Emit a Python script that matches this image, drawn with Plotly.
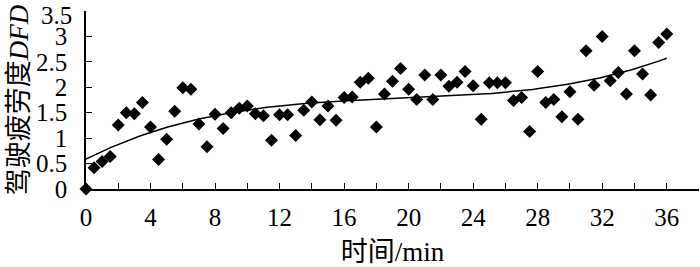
import numpy as np
import plotly.graph_objects as go

time_min = [0, 0.5, 1, 1.5, 2, 2.5, 3, 3.5, 4, 4.5, 5, 5.5, 6, 6.5, 7, 7.5, 8, 8.5, 9, 9.5,
            10, 10.5, 11, 11.5, 12, 12.5, 13, 13.5, 14, 14.5, 15, 15.5, 16, 16.5, 17, 17.5,
            18, 18.5, 19, 19.5, 20, 20.5, 21, 21.5, 22, 22.5, 23, 23.5, 24, 24.5, 25, 25.5,
            26, 26.5, 27, 27.5, 28, 28.5, 29, 29.5, 30, 30.5, 31, 31.5, 32, 32.5, 33, 33.5,
            34, 34.5, 35, 35.5, 36]
dfd = [0, 0.42, 0.54, 0.64, 1.26, 1.50, 1.48, 1.70, 1.22, 0.58, 0.98, 1.53, 1.99, 1.96, 1.28, 0.83,
       1.47, 1.19, 1.50, 1.59, 1.63, 1.48, 1.44, 0.96, 1.46, 1.46, 1.05, 1.55, 1.71, 1.36,
       1.63, 1.35, 1.80, 1.81, 2.10, 2.18, 1.22, 1.87, 2.12, 2.37, 1.96, 1.76, 2.24, 1.76,
       2.24, 2.02, 2.10, 2.31, 2.03, 1.37, 2.09, 2.09, 2.09, 1.74, 1.80, 1.13, 2.31, 1.70,
       1.76, 1.42, 1.91, 1.37, 2.72, 2.04, 3.00, 2.13, 2.29, 1.87, 2.72, 2.26, 1.85, 2.88, 3.05]

x_tickvals = [0, 4, 8, 12, 16, 20, 24, 28, 32, 36]
y_tickvals = [0, 0.5, 1, 1.5, 2, 2.5, 3, 3.5]
y_ticktext = ["0", "0.5", "1", "1.5", "2", "2.5", "3", ""]
y_top_label = "3.5"

# Polynomial (cubic) trend line fitted to all measured points
xs = np.array(time_min)
ys = np.array(dfd)
coef = np.polyfit(xs, ys, 3)
xfit = np.linspace(0, 36, 200)
yfit = np.polyval(coef, xfit)

font_family = "Liberation Serif, Times New Roman, Noto Sans CJK SC, serif"

fig = go.Figure()
fig.add_trace(go.Scatter(x=xfit, y=yfit, mode="lines",
                         line=dict(color="black", width=1.5), hoverinfo="skip"))
fig.add_trace(go.Scatter(x=time_min, y=dfd, mode="markers", cliponaxis=False,
                         marker=dict(symbol="diamond", size=10, color="black")))

# top tick label sits slightly lower than its tick, as in the original
fig.add_annotation(x=0, xref="paper", y=y_tickvals[-1], yref="y", text=y_top_label,
                   showarrow=False, xanchor="right", yanchor="middle",
                   xshift=-12, yshift=-4, font=dict(size=25, family=font_family))

fig.update_layout(
    width=700, height=267,
    margin=dict(l=86, r=1, t=11, b=78, autoexpand=False),
    paper_bgcolor="white", plot_bgcolor="white",
    showlegend=False,
    font=dict(family=font_family, size=25, color="black"),
)
fig.update_xaxes(
    range=[0, 38], tickvals=x_tickvals, ticks="inside", ticklen=6, tickwidth=1.2,
    tickcolor="black", showline=True, linecolor="black", linewidth=1.5,
    showgrid=False, zeroline=False, ticklabelstandoff=5, automargin=False,
    minor=dict(dtick=2, ticks="inside", ticklen=6, tickwidth=1.2, tickcolor="black", showgrid=False),
    title=dict(text="时间/min", font=dict(size=27), standoff=23),
)
fig.update_yaxes(
    range=[0, 3.5001], tickvals=y_tickvals, ticktext=y_ticktext, ticks="inside", ticklen=6,
    tickwidth=1.2, tickcolor="black", showline=True, linecolor="black", linewidth=1.5,
    showgrid=False, zeroline=False, ticklabelstandoff=12, automargin=False,
    title=dict(text="驾驶疲劳度<i>DFD</i>", font=dict(size=27), standoff=0),
)

fig.write_html("out.html", config={"displayModeBar": False},
               post_script="document.body.style.margin='0';")
